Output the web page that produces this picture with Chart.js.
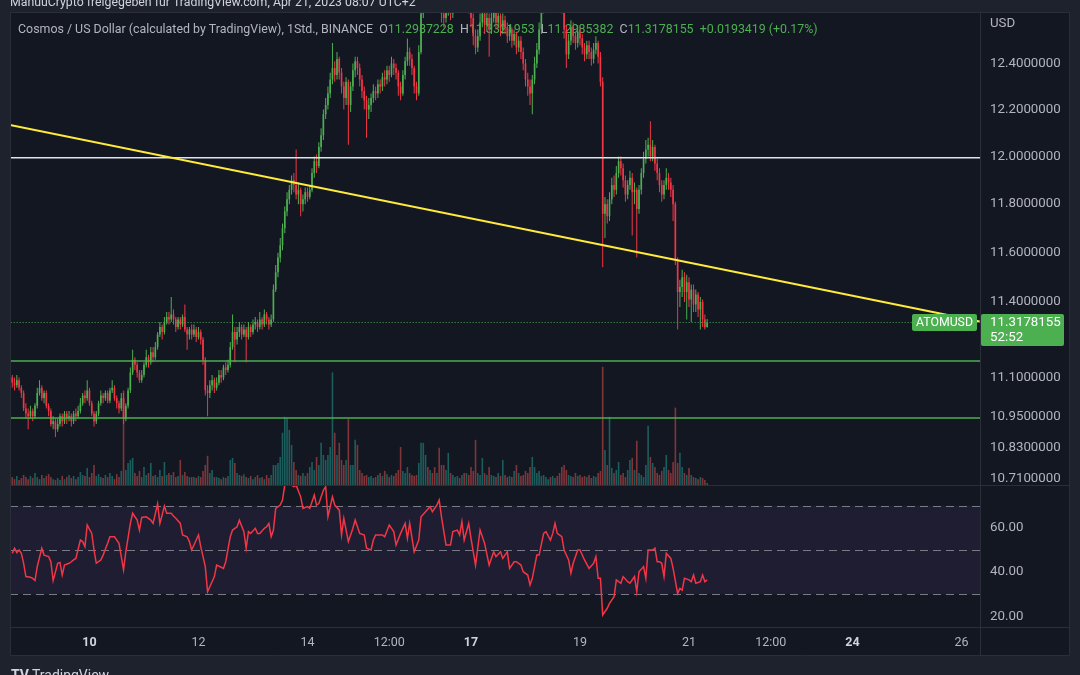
<!DOCTYPE html>
<html>
<head>
<meta charset="utf-8">
<script src="https://cdn.jsdelivr.net/npm/chart.js@4.4.0/dist/chart.umd.min.js"></script>
<style>
  html, body { margin: 0; padding: 0; background: #1e222d; }
  #wrap { position: relative; width: 1080px; height: 675px; overflow: hidden; }
</style>
</head>
<body>
<div id="wrap"><canvas id="chart" width="1080" height="675"></canvas></div>
<script>
// --- data (hours counted from Apr 10 2023 00:00, one candle per hour) ---
const firstHour = -34;      // first candle: Apr 8, 14:00
const firstOpen = 11.10;

const closes = [
  11.08, 11.07, 11.09, 11.06, 11.04, 10.98, 10.96, 10.95, 10.97, 10.95,
  10.99, 11.04, 11.06, 11.02, 11.04, 10.99, 10.97, 10.92, 10.93, 10.90,
  10.92, 10.95, 10.93, 10.96, 10.94, 10.95, 10.93, 10.96, 10.95, 10.97,
  11.00, 11.03, 11.02, 11.05, 11.00, 10.96, 10.93, 10.96, 11.00, 11.03,
  11.02, 11.04, 11.01, 11.05, 11.06, 11.02, 11.00, 10.98, 11.02, 10.94,
  10.99, 11.05, 11.12, 11.17, 11.15, 11.12, 11.09, 11.11, 11.15, 11.18,
  11.16, 11.20, 11.18, 11.22, 11.27, 11.30, 11.28, 11.32, 11.34, 11.33,
  11.35, 11.33, 11.30, 11.33, 11.31, 11.34, 11.29, 11.27, 11.29, 11.27,
  11.29, 11.26, 11.28, 11.25, 11.17, 11.05, 11.04, 11.07, 11.09, 11.06,
  11.08, 11.11, 11.10, 11.14, 11.13, 11.15, 11.22, 11.28, 11.25, 11.28,
  11.30, 11.27, 11.29, 11.26, 11.30, 11.28, 11.31, 11.32, 11.30, 11.33,
  11.31, 11.35, 11.33, 11.31, 11.33, 11.45, 11.52, 11.58, 11.63, 11.70,
  11.77, 11.82, 11.86, 11.90, 11.88, 11.84, 11.86, 11.80, 11.82, 11.85,
  11.83, 11.86, 11.93, 11.98, 11.96, 12.04, 12.09, 12.18, 12.22, 12.27,
  12.33, 12.38, 12.35, 12.42, 12.36, 12.30, 12.25, 12.32, 12.22, 12.30,
  12.37, 12.41, 12.38, 12.33, 12.28, 12.24, 12.20, 12.22, 12.25, 12.28,
  12.27, 12.31, 12.30, 12.34, 12.33, 12.37, 12.35, 12.40, 12.38, 12.36,
  12.30, 12.27, 12.35, 12.41, 12.45, 12.42, 12.38, 12.30, 12.27, 12.45,
  12.62, 12.70, 12.74, 12.72, 12.78, 12.75, 12.70, 12.73, 12.68, 12.62,
  12.60, 12.64, 12.66, 12.62, 12.67, 12.70, 12.72, 12.69, 12.71, 12.68,
  12.70, 12.66, 12.60, 12.52, 12.47, 12.52, 12.58, 12.62, 12.57, 12.60,
  12.55, 12.60, 12.63, 12.58, 12.61, 12.55, 12.59, 12.56, 12.52, 12.55,
  12.50, 12.53, 12.47, 12.50, 12.45, 12.40, 12.33, 12.30, 12.27, 12.33,
  12.40, 12.46, 12.55, 12.64, 12.70, 12.74, 12.76, 12.72, 12.75, 12.78,
  12.74, 12.70, 12.66, 12.55, 12.44, 12.50, 12.56, 12.52, 12.49, 12.54,
  12.51, 12.47, 12.44, 12.48, 12.45, 12.42, 12.46, 12.49, 12.43, 12.32,
  11.76, 11.80, 11.75, 11.82, 11.88, 11.86, 11.93, 11.98, 11.95, 11.90,
  11.84, 11.88, 11.91, 11.85, 11.86, 11.78, 11.86, 11.93, 11.99, 12.03,
  12.05, 12.00, 12.04, 11.97, 11.93, 11.88, 11.84, 11.88, 11.91, 11.89,
  11.86, 11.80, 11.57, 11.44, 11.46, 11.50, 11.44, 11.48, 11.41, 11.45,
  11.39, 11.43, 11.37, 11.40, 11.33, 11.2987228, 11.3178155
];

const highs = [
  11.11, 11.10, 11.11, 11.10, 11.07, 11.05, 11.00, 10.98, 10.99, 10.98,
  11.00, 11.06, 11.09, 11.07, 11.05, 11.05, 11.00, 10.98, 10.95, 10.94,
  10.94, 10.96, 10.96, 10.97, 10.97, 10.97, 10.96, 10.97, 10.98, 10.99,
  11.02, 11.04, 11.05, 11.09, 11.06, 11.01, 10.97, 10.97, 11.01, 11.05,
  11.04, 11.05, 11.05, 11.06, 11.09, 11.07, 11.03, 11.01, 11.04, 11.04,
  11.00, 11.06, 11.14, 11.21, 11.18, 11.16, 11.13, 11.13, 11.16, 11.21,
  11.19, 11.22, 11.22, 11.24, 11.28, 11.32, 11.31, 11.34, 11.36, 11.36,
  11.42, 11.37, 11.34, 11.34, 11.34, 11.35, 11.39, 11.30, 11.30, 11.31,
  11.31, 11.30, 11.30, 11.29, 11.26, 11.18, 11.07, 11.09, 11.11, 11.10,
  11.10, 11.13, 11.13, 11.15, 11.16, 11.17, 11.24, 11.35, 11.30, 11.30,
  11.32, 11.31, 11.31, 11.30, 11.32, 11.31, 11.33, 11.34, 11.33, 11.36,
  11.34, 11.37, 11.36, 11.34, 11.35, 11.47, 11.55, 11.60, 11.66, 11.72,
  11.79, 11.85, 11.88, 11.92, 11.93, 12.03, 11.89, 11.87, 11.84, 11.87,
  11.87, 11.88, 11.95, 12.00, 12.01, 12.06, 12.12, 12.20, 12.25, 12.30,
  12.36, 12.49, 12.41, 12.45, 12.43, 12.38, 12.32, 12.34, 12.33, 12.32,
  12.40, 12.43, 12.43, 12.40, 12.35, 12.30, 12.26, 12.25, 12.27, 12.31,
  12.30, 12.33, 12.33, 12.36, 12.37, 12.39, 12.39, 12.43, 12.42, 12.40,
  12.37, 12.32, 12.37, 12.43, 12.51, 12.47, 12.44, 12.39, 12.32, 12.48,
  12.66, 12.74, 12.78, 12.77, 12.82, 12.80, 12.77, 12.76, 12.75, 12.70,
  12.65, 12.67, 12.70, 12.68, 12.70, 12.74, 12.76, 12.74, 12.75, 12.73,
  12.73, 12.72, 12.67, 12.62, 12.55, 12.55, 12.62, 12.66, 12.64, 12.63,
  12.62, 12.63, 12.67, 12.65, 12.64, 12.62, 12.62, 12.61, 12.58, 12.57,
  12.56, 12.55, 12.54, 12.52, 12.52, 12.47, 12.42, 12.36, 12.33, 12.35,
  12.43, 12.49, 12.58, 12.68, 12.74, 12.78, 12.80, 12.78, 12.79, 12.82,
  12.80, 12.76, 12.72, 12.68, 12.57, 12.53, 12.59, 12.58, 12.54, 12.57,
  12.56, 12.53, 12.49, 12.50, 12.50, 12.47, 12.49, 12.52, 12.50, 12.45,
  12.34, 11.83, 11.82, 11.85, 11.91, 11.92, 11.96, 12.00, 12.00, 11.97,
  11.92, 11.90, 11.94, 11.93, 11.89, 11.87, 11.88, 11.95, 12.02, 12.07,
  12.08, 12.15, 12.07, 12.05, 11.99, 11.95, 11.90, 11.90, 11.95, 11.93,
  11.91, 11.88, 11.81, 11.58, 11.49, 11.53, 11.52, 11.51, 11.50, 11.47,
  11.47, 11.45, 11.44, 11.42, 11.41, 11.35, 11.3321953
];

const lows = [
  11.06, 11.05, 11.06, 11.05, 11.02, 10.97, 10.94, 10.90, 10.94, 10.93,
  10.94, 10.98, 11.03, 11.01, 11.00, 10.98, 10.95, 10.91, 10.90, 10.87,
  10.89, 10.91, 10.91, 10.92, 10.92, 10.93, 10.91, 10.92, 10.93, 10.94,
  10.96, 10.99, 11.00, 11.01, 10.99, 10.95, 10.91, 10.92, 10.95, 10.99,
  11.00, 11.01, 11.00, 11.00, 11.04, 11.01, 10.98, 10.96, 10.97, 10.92,
  10.93, 10.98, 11.04, 11.11, 11.13, 11.10, 11.08, 11.08, 11.10, 11.14,
  11.14, 11.15, 11.16, 11.17, 11.21, 11.26, 11.25, 11.27, 11.31, 11.31,
  11.32, 11.31, 11.28, 11.29, 11.29, 11.30, 11.28, 11.21, 11.25, 11.25,
  11.26, 11.24, 11.25, 11.23, 11.15, 11.03, 10.95, 11.02, 11.05, 11.04,
  11.05, 11.07, 11.08, 11.09, 11.11, 11.12, 11.14, 11.21, 11.16, 11.23,
  11.26, 11.25, 11.26, 11.16, 11.25, 11.26, 11.27, 11.29, 11.28, 11.29,
  11.29, 11.30, 11.31, 11.29, 11.30, 11.32, 11.44, 11.50, 11.56, 11.61,
  11.68, 11.75, 11.80, 11.84, 11.85, 11.82, 11.80, 11.75, 11.77, 11.80,
  11.81, 11.82, 11.85, 11.91, 11.93, 11.95, 12.02, 12.07, 12.16, 12.20,
  12.25, 12.31, 12.32, 12.33, 12.33, 12.27, 12.20, 12.22, 12.05, 12.19,
  12.28, 12.34, 12.35, 12.30, 12.25, 12.20, 12.08, 12.16, 12.19, 12.23,
  12.24, 12.25, 12.27, 12.28, 12.30, 12.31, 12.32, 12.34, 12.35, 12.33,
  12.26, 12.24, 12.26, 12.33, 12.39, 12.39, 12.35, 12.27, 12.24, 12.26,
  12.44, 12.60, 12.66, 12.66, 12.70, 12.70, 12.65, 12.66, 12.63, 12.58,
  12.56, 12.58, 12.61, 12.59, 12.60, 12.65, 12.67, 12.66, 12.67, 12.64,
  12.64, 12.62, 12.56, 12.48, 12.44, 12.45, 12.50, 12.56, 12.53, 12.54,
  12.43, 12.53, 12.58, 12.55, 12.56, 12.52, 12.53, 12.53, 12.49, 12.50,
  12.47, 12.48, 12.44, 12.45, 12.42, 12.37, 12.30, 12.26, 12.22, 12.18,
  12.31, 12.38, 12.44, 12.53, 12.62, 12.68, 12.71, 12.69, 12.70, 12.73,
  12.71, 12.66, 12.62, 12.51, 12.38, 12.42, 12.48, 12.49, 12.46, 12.47,
  12.48, 12.44, 12.41, 12.42, 12.42, 12.39, 12.40, 12.44, 12.40, 12.30,
  11.54, 11.66, 11.72, 11.73, 11.80, 11.83, 11.84, 11.91, 11.92, 11.87,
  11.81, 11.82, 11.86, 11.67, 11.80, 11.58, 11.76, 11.84, 11.91, 11.97,
  12.00, 11.98, 11.98, 11.94, 11.90, 11.85, 11.81, 11.82, 11.86, 11.86,
  11.83, 11.73, 11.55, 11.29, 11.38, 11.42, 11.40, 11.33, 11.38, 11.32,
  11.36, 11.36, 11.34, 11.29, 11.30, 11.29, 11.2985382
];

// volume, thousand ATOM
const volumes = [
  27, 20, 31, 17, 24, 34, 27, 20, 31, 24,
  41, 27, 20, 34, 24, 31, 37, 27, 20, 17,
  24, 17, 31, 20, 27, 34, 24, 31, 20, 27,
  44, 34, 31, 58, 27, 41, 68, 31, 37, 27,
  24, 34, 27, 41, 31, 20, 37, 27, 48, 320,
  51, 75, 85, 92, 41, 31, 48, 27, 61, 34,
  41, 75, 31, 34, 27, 51, 31, 78, 34, 41,
  34, 44, 27, 31, 85, 34, 44, 31, 27, 27,
  27, 24, 31, 27, 48, 68, 99, 41, 51, 27,
  27, 24, 20, 27, 24, 31, 85, 92, 75, 41,
  34, 31, 37, 27, 24, 31, 20, 27, 34, 24,
  27, 20, 34, 24, 34, 68, 68, 75, 95, 177,
  231, 228, 187, 136, 78, 51, 34, 31, 41, 31,
  41, 61, 78, 51, 95, 68, 143, 102, 85, 102,
  129, 381, 177, 102, 143, 85, 68, 85, 224, 68,
  68, 153, 136, 51, 41, 31, 34, 27, 31, 24,
  27, 34, 41, 31, 48, 37, 27, 34, 31, 41,
  51, 129, 48, 41, 61, 41, 34, 31, 34, 75,
  143, 143, 102, 61, 51, 41, 61, 41, 126, 68,
  68, 51, 109, 41, 34, 27, 31, 24, 34, 41,
  41, 34, 61, 48, 153, 41, 34, 92, 41, 34,
  61, 34, 31, 27, 41, 31, 85, 34, 27, 31,
  27, 48, 68, 41, 31, 34, 48, 41, 61, 95,
  61, 41, 48, 31, 34, 27, 20, 27, 31, 24,
  31, 41, 61, 68, 51, 34, 31, 27, 41, 31,
  34, 27, 31, 27, 34, 24, 31, 27, 41, 48,
  400, 119, 68, 231, 58, 41, 51, 78, 34, 41,
  27, 51, 85, 92, 51, 150, 41, 34, 27, 68,
  201, 95, 75, 61, 41, 34, 48, 61, 102, 51,
  41, 78, 262, 75, 109, 61, 41, 34, 58, 34,
  27, 24, 20, 27, 24, 17, 7
];

// RSI (14)
const rsiHours = [
  -34, -33, -32, -31, -30, -29, -28, -26, -25, -24,
  -23, -21, -20, -18, -17, -16, -14, -13, -12, -11,
  -9, -8, -7, -6, -4, -3, -2, -1, 1, 2,
  3, 5, 6, 8, 9, 11, 13, 14, 15, 16,
  18, 19, 21, 22, 23, 25, 27, 28, 30, 31,
  32, 33, 34, 36, 37, 38, 40, 41, 43, 44,
  45, 47, 48, 49, 51, 52, 53, 55, 56, 58,
  59, 60, 62, 63, 65, 66, 68, 69, 70, 71,
  73, 74, 75, 77, 78, 79, 80, 81, 82, 84,
  85, 86, 87, 88, 90, 91, 93, 94, 96, 97,
  99, 100, 101, 103, 104, 105, 107, 108, 110, 111,
  112, 114, 116, 117, 119, 121, 122, 124, 125, 126,
  129, 130, 132, 134, 135, 137, 139, 140, 141, 143,
  145, 146, 148, 150, 151, 153, 154, 155, 157, 159,
  160, 162, 163, 164, 165, 167, 168, 170, 172, 174,
  176, 178, 179, 181, 182, 184, 185, 187, 188, 190,
  191, 193, 194, 195, 197, 198, 200, 201, 203, 204,
  205, 206, 208, 209, 211, 212, 213, 215, 216, 218,
  220, 222, 223, 224, 225, 226, 228, 229, 231, 232,
  234, 235, 237, 238, 240, 241, 242, 244, 245, 246,
  248, 249, 250, 251, 252, 253, 254, 256, 257, 259,
  260, 261, 262, 264, 265, 266, 267, 269, 270, 271, 272
];
const rsiValues = [
  48.5, 50.8, 48.8, 50, 48.5, 44, 38, 37.7, 37.2, 36.2,
  42.5, 50.8, 47.7, 47, 44.7, 36.2, 44, 44.4, 38.7, 43.2,
  44, 44.7, 45.5, 46.2, 54.5, 53.8, 51.5, 61.3, 57.5, 50,
  44, 45.5, 47.7, 53, 56, 56, 53, 47, 41, 49.2,
  62, 66.6, 63.5, 59, 64.7, 65, 63.5, 62, 70.8, 62,
  65.8, 69.9, 66.6, 66.6, 65.3, 64.3, 62, 56.8, 56, 53.8,
  50, 54.5, 56.8, 51.5, 42.5, 31.2, 33.4, 38, 43.2, 42.2,
  41.7, 44.7, 56, 59, 60.5, 63.5, 58.3, 50.8, 58.3, 57.5,
  59.8, 57.5, 57.5, 59.8, 60.5, 62, 56, 59, 68.8, 70.3,
  72.6, 79.3, 83, 80, 78.6, 79.3, 74, 68.8, 69.6, 68.8,
  74.8, 70.3, 71, 77, 78.6, 65, 74, 70.3, 68, 56.8,
  64.3, 53.8, 59.8, 63.5, 57.5, 56.8, 50.8, 50, 54.5, 56.8,
  56.8, 56, 61.3, 58.3, 52.3, 57.5, 62, 55.3, 62, 49.2,
  54.5, 65, 67.3, 69.6, 67.3, 70.3, 72.6, 65, 52.3, 52.3,
  58.3, 59, 56.8, 62.8, 54.5, 62, 55.3, 43.2, 59, 53,
  43.2, 49.2, 47, 49.2, 46.2, 49.2, 41.7, 44.7, 44.7, 43.2,
  40.2, 38.7, 34.2, 37.2, 47.7, 47.7, 57.5, 58.3, 54.5, 57.5,
  62, 57.5, 56, 50, 45.5, 39.5, 44, 50, 50, 45.5,
  41.7, 44, 47, 37.2, 37.2, 20.7, 23.7, 25.9, 28.9, 36.5,
  35, 38, 35.7, 35, 38, 31.2, 40.2, 42.5, 37.2, 50,
  50, 50.8, 44.7, 44.7, 44, 38, 48.5, 46.2, 41.7, 30.4,
  32.7, 31.9, 37.2, 36.5, 35.7, 38.7, 35, 35.7, 38.7, 35.7, 36.5
];

const timeTicks  = [0, 48, 96, 132, 168, 216, 264, 300, 336, 384];
const timeLabels = ['10', '12', '14', '12:00', '17', '19', '21', '12:00', '24', '26'];
const weekStarts = ['10', '17', '24'];
const priceTicks = [12.4, 12.2, 12.0, 11.8, 11.6, 11.4, 11.1, 10.95, 10.83, 10.71];
const rsiTicks   = [60, 40, 20];
const rsiLevels  = [70, 50, 30];

// drawings
const resistance  = 11.995;
const supports    = [11.165, 10.943];
const trendHours  = [-35, 392];
const trendPrices = [12.134, 11.322];

const legendParts = [
  ['Cosmos / US Dollar (calculated by TradingView), 1Std., BINANCE', 'gray'],
  ['  O', 'gray'], ['11.2987228', 'green'],
  ['  H', 'gray'], ['11.3321953', 'green'],
  ['  L', 'gray'], ['11.2985382', 'green'],
  ['  C', 'gray'], ['11.3178155', 'green'],
  ['  +0.0193419 (+0.17%)', 'green']
];

// --- build ---
const GREEN = '#4caf50', RED = '#f23645', TEXT = '#b2b5be', LINE = '#2a2e39';
const FONT = 'Roboto, "Noto Sans", sans-serif';
const xMin = -35, xMax = 392.15;

const hours = closes.map((c, i) => firstHour + i);
const opens = closes.map((c, i) => i === 0 ? firstOpen : closes[i - 1]);
const up = closes.map((c, i) => c >= opens[i]);
const lastClose = closes[closes.length - 1];

const hline = (v) => [{ x: xMin - 5, y: v }, { x: xMax + 5, y: v }];

const panes = {
  id: 'panes',
  beforeDraw(chart) {
    const { ctx, chartArea: a } = chart;
    const right = chart.scales.y.right, bottom = chart.scales.x.bottom;
    ctx.save();
    ctx.fillStyle = '#1e222d';
    ctx.fillRect(0, 0, chart.width, chart.height);
    ctx.fillStyle = '#131722';
    ctx.fillRect(a.left, a.top, right - a.left, bottom - a.top);
    // share line on top
    ctx.fillStyle = '#d1d4dc';
    ctx.font = '12.3px ' + FONT;
    ctx.textBaseline = 'alphabetic';
    ctx.fillText('ManuuCrypto freigegeben für TradingView.com, Apr 21, 2023 08:07 UTC+2', 10, 6);
    // footer logo
    ctx.font = 'bold 14px ' + FONT;
    ctx.fillText('TV', 11, 680);
    ctx.font = '14px ' + FONT;
    ctx.fillText('TradingView', 32, 680);
    ctx.restore();
  },
  beforeDatasetsDraw(chart) {
    const { ctx, chartArea: a } = chart;
    const r = chart.scales.yRsi;
    ctx.save();
    ctx.fillStyle = 'rgba(126, 87, 194, 0.1)';
    const y70 = r.getPixelForValue(rsiLevels[0]), y30 = r.getPixelForValue(rsiLevels[2]);
    ctx.fillRect(a.left, y70, a.right - a.left, y30 - y70);
    ctx.strokeStyle = '#787b86';
    ctx.lineWidth = 1;
    ctx.setLineDash([8, 5]);
    rsiLevels.forEach(v => {
      const y = Math.round(r.getPixelForValue(v)) + 0.5;
      ctx.beginPath(); ctx.moveTo(a.left, y); ctx.lineTo(a.right, y); ctx.stroke();
    });
    ctx.setLineDash([]);
    // legend line, candles are drawn over it
    ctx.font = '12.4px ' + FONT;
    ctx.textBaseline = 'middle';
    let x = 18;
    legendParts.forEach(([t, c]) => {
      ctx.fillStyle = c === 'green' ? GREEN : TEXT;
      ctx.fillText(t, x, 29.5);
      x += ctx.measureText(t).width;
    });
    ctx.restore();
  },
  beforeDatasetDraw(chart, args) {
    if (args.meta.yAxisID !== 'yRsi') return;
    const r = chart.scales.yRsi, a = chart.chartArea, ctx = chart.ctx;
    ctx.save();
    ctx.beginPath();
    ctx.rect(a.left, r.top, a.right - a.left, r.bottom - r.top);
    ctx.clip();
  },
  afterDatasetDraw(chart, args) {
    if (args.meta.yAxisID === 'yRsi') chart.ctx.restore();
  },
  afterDraw(chart) {
    const { ctx, chartArea: a } = chart;
    const p = chart.scales.y, r = chart.scales.yRsi, xs = chart.scales.x;
    const right = p.right, bottom = xs.bottom;
    ctx.save();
    ctx.strokeStyle = LINE;
    ctx.lineWidth = 1;
    ctx.beginPath();
    ctx.rect(a.left + 0.5, a.top + 0.5, right - a.left - 1, bottom - a.top - 1);
    ctx.moveTo(a.right + 0.5, a.top); ctx.lineTo(a.right + 0.5, bottom);
    ctx.moveTo(a.left, Math.round(p.bottom) + 0.5); ctx.lineTo(right, Math.round(p.bottom) + 0.5);
    ctx.moveTo(a.left, Math.round(r.bottom) + 0.5); ctx.lineTo(right, Math.round(r.bottom) + 0.5);
    ctx.stroke();

    // axis labels
    ctx.fillStyle = TEXT;
    ctx.font = '13.3px ' + FONT;
    ctx.textBaseline = 'middle';
    ctx.textAlign = 'left';
    ctx.fillText('USD', a.right + 10, 24);
    priceTicks.forEach(v => ctx.fillText(v.toFixed(7), a.right + 10, p.getPixelForValue(v)));
    rsiTicks.forEach(v => ctx.fillText(v.toFixed(2), a.right + 10, r.getPixelForValue(v)));

    // last price labels
    const y = p.getPixelForValue(lastClose);
    ctx.fillStyle = GREEN;
    ctx.beginPath(); ctx.roundRect(912, y - 8.5, 65, 17, 2); ctx.fill();
    ctx.beginPath(); ctx.roundRect(a.right + 1, y - 8.5, 83, 32, 2); ctx.fill();
    ctx.fillStyle = '#ffffff';
    ctx.font = '12.3px ' + FONT;
    ctx.textAlign = 'center';
    ctx.fillText('ATOMUSD', 944.5, y + 0.5);
    ctx.textAlign = 'left';
    ctx.font = '13.3px ' + FONT;
    ctx.fillText(lastClose.toFixed(7), a.right + 10, y + 0.5);
    ctx.fillText('52:52', a.right + 10, y + 15.5);
    ctx.restore();
  }
};

new Chart(document.getElementById('chart'), {
  type: 'bar',
  data: {
    datasets: [
      {
        type: 'line', data: trendHours.map((h, i) => ({ x: h, y: trendPrices[i] })),
        borderColor: '#ffeb3b', borderWidth: 2, pointRadius: 0, yAxisID: 'y', order: 0
      },
      {
        type: 'line', data: hline(resistance),
        borderColor: '#e0e3eb', borderWidth: 1.5, pointRadius: 0, yAxisID: 'y', order: 0
      },
      ...supports.map(v => ({
        type: 'line', data: hline(v),
        borderColor: GREEN, borderWidth: 1.5, pointRadius: 0, yAxisID: 'y', order: 0
      })),
      {
        type: 'line', data: hline(lastClose),
        borderColor: GREEN, borderWidth: 1, borderDash: [1, 2], pointRadius: 0, yAxisID: 'y', order: 0
      },
      {
        data: hours.map((h, i) => ({ x: h, y: [opens[i], closes[i]] })),
        backgroundColor: up.map(u => u ? GREEN : RED),
        grouped: false, maxBarThickness: 1.8, minBarLength: 1, yAxisID: 'y', clip: 0, order: 1
      },
      {
        data: hours.map((h, i) => ({ x: h, y: [lows[i], highs[i]] })),
        backgroundColor: up.map(u => u ? GREEN : RED),
        grouped: false, maxBarThickness: 1, yAxisID: 'y', clip: 0, order: 2
      },
      {
        data: hours.map((h, i) => ({ x: h, y: volumes[i] })),
        backgroundColor: up.map(u => u ? 'rgba(38,166,154,0.5)' : 'rgba(239,83,80,0.5)'),
        grouped: false, maxBarThickness: 1.6, yAxisID: 'yVol', order: 3
      },
      {
        type: 'line', data: rsiHours.map((h, i) => ({ x: h, y: rsiValues[i] })),
        borderColor: '#f23645', borderWidth: 1.5, pointRadius: 0, yAxisID: 'yRsi', order: 0
      }
    ]
  },
  options: {
    responsive: false,
    animation: false,
    events: [],
    layout: { padding: { left: 10, top: 12, right: 10, bottom: 19 } },
    plugins: { legend: { display: false }, tooltip: { enabled: false } },
    scales: {
      x: {
        type: 'linear', min: xMin, max: xMax, offset: false,
        grid: { display: false, drawTicks: false }, border: { display: false },
        afterBuildTicks: s => { s.ticks = timeTicks.map(v => ({ value: v })); },
        afterFit: s => { s.height = 29; },
        ticks: {
          autoSkip: false, maxRotation: 0, padding: 8,
          callback: (v, i) => timeLabels[i],
          color: c => weekStarts.includes(timeLabels[c.index]) ? '#d1d4dc' : TEXT,
          font: c => ({ family: FONT, size: 12.5, weight: weekStarts.includes(timeLabels[c.index]) ? 'bold' : 'normal' })
        }
      },
      // tick labels of both panes are drawn by the plugin, so the axes add no padding
      y: {
        type: 'logarithmic', position: 'right', stack: 'panes', stackWeight: 473,
        min: 10.6875, max: 12.6272, beginAtZero: false,
        grid: { display: false, drawTicks: false }, border: { display: false },
        afterFit: s => { s.width = 90; },
        ticks: { display: false }
      },
      yRsi: {
        type: 'linear', position: 'right', stack: 'panes', stackWeight: 142,
        min: 15.24, max: 79.35,
        grid: { display: false, drawTicks: false }, border: { display: false },
        afterFit: s => { s.width = 90; },
        ticks: { display: false }
      },
      yVol: { type: 'linear', display: false, min: -480, max: 1600 }
    }
  },
  plugins: [panes]
});
</script>
</body>
</html>
